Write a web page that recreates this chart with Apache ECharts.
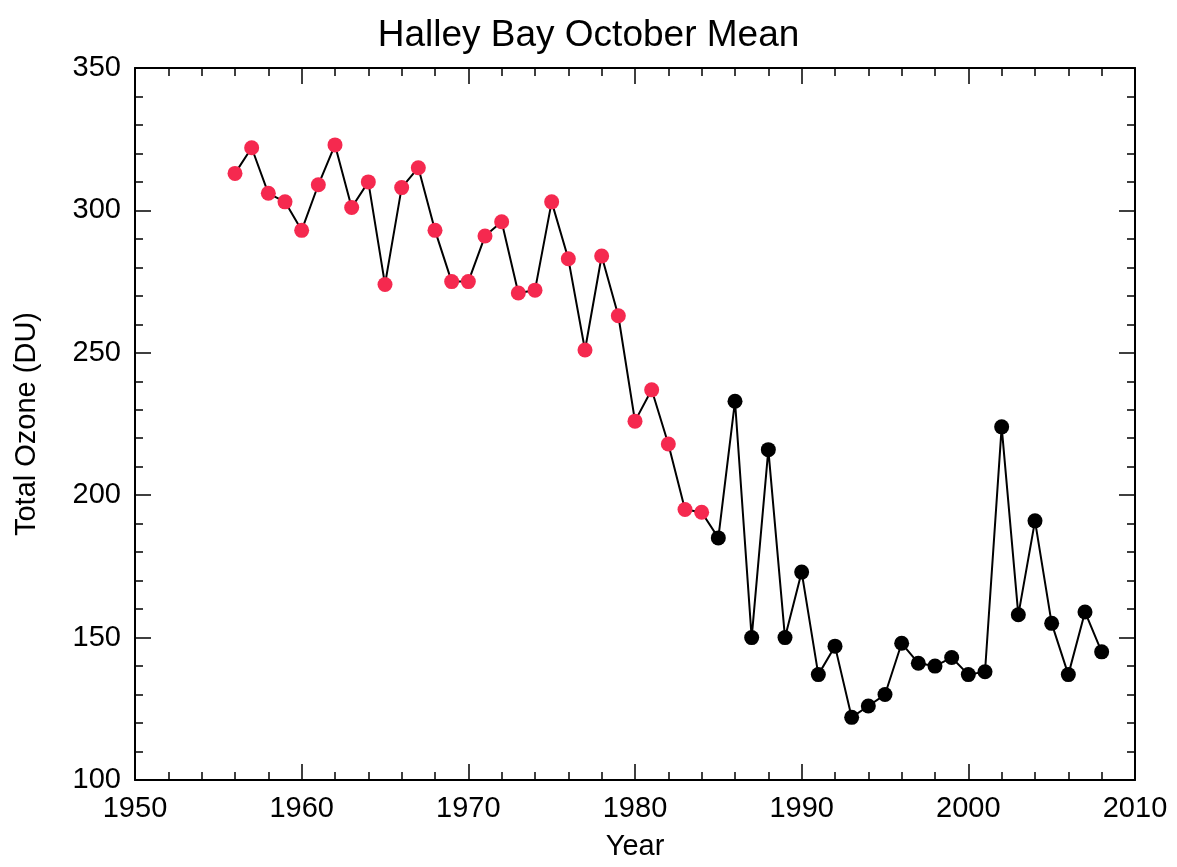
<!DOCTYPE html>
<html>
<head>
<meta charset="utf-8">
<script src="https://cdn.jsdelivr.net/npm/echarts@6/dist/echarts.min.js"></script>
<style>html,body{margin:0;background:#fff}#chart{width:1177px;height:867px}</style>
</head>
<body>
<div id="chart"></div>
<script>
const years = [1956,1957,1958,1959,1960,1961,1962,1963,1964,1965,1966,1967,1968,1969,1970,
  1971,1972,1973,1974,1975,1976,1977,1978,1979,1980,1981,1982,1983,1984,1985,1986,1987,1988,
  1989,1990,1991,1992,1993,1994,1995,1996,1997,1998,1999,2000,2001,2002,2003,2004,2005,2006,2007,2008];
const ozone = [313,322,306,303,293,309,323,301,310,274,308,315,293,275,275,
  291,296,271,272,303,283,251,284,263,226,237,218,195,194,185,233,150,216,
  150,173,137,147,122,126,130,148,141,140,143,137,138,224,158,191,155,137,159,145];
const lastRedYear = 1984;

const pts = years.map((y, i) => [y, ozone[i]]);
const redPts = pts.filter(p => p[0] <= lastRedYear);
const blackPts = pts.filter(p => p[0] > lastRedYear);

const font = "Liberation Sans";
const line = { show: true, onZero: false, lineStyle: { color: "#000", width: 2 } };
const tick = { show: true, inside: true, length: 16, lineStyle: { color: "#000", width: 1.5 } };
const minor = { show: true, splitNumber: 5, length: 8, lineStyle: { color: "#000", width: 1.5 } };
const label = { fontFamily: font, fontSize: 29, color: "#000", margin: 14, formatter: v => String(v) };
const nameStyle = { fontFamily: font, fontSize: 29, color: "#000" };

const chart = echarts.init(document.getElementById("chart"));
chart.setOption({
  animation: false,
  title: {
    text: "Halley Bay October Mean", left: "center", top: 12,
    textStyle: { fontFamily: font, fontSize: 37, fontWeight: "normal", color: "#000" }
  },
  grid: { left: 135, right: 42, top: 68, bottom: 87 },
  xAxis: [
    { type: "value", min: 1950, max: 2010, interval: 10, name: "Year", nameLocation: "middle",
      nameGap: 52, nameTextStyle: nameStyle, axisLabel: label,
      axisLine: line, axisTick: tick, minorTick: minor, splitLine: { show: false } },
    { type: "value", position: "top", min: 1950, max: 2010, interval: 10, axisLabel: { show: false },
      axisLine: line, axisTick: tick, minorTick: minor, splitLine: { show: false } }
  ],
  yAxis: [
    { type: "value", min: 100, max: 350, interval: 50, name: "Total Ozone (DU)", nameLocation: "middle",
      nameGap: 94, nameTextStyle: nameStyle, axisLabel: label,
      axisLine: line, axisTick: tick, minorTick: minor, splitLine: { show: false } },
    { type: "value", position: "right", min: 100, max: 350, interval: 50, axisLabel: { show: false },
      axisLine: line, axisTick: tick, minorTick: minor, splitLine: { show: false } }
  ],
  series: [
    { type: "line", data: pts, showSymbol: false, lineStyle: { color: "#000", width: 2 }, z: 1 },
    { type: "scatter", data: redPts, symbolSize: 15, itemStyle: { color: "#f5294f", opacity: 1 }, z: 2 },
    { type: "scatter", data: blackPts, symbolSize: 15, itemStyle: { color: "#000", opacity: 1 }, z: 2 }
  ]
});
</script>
</body>
</html>
